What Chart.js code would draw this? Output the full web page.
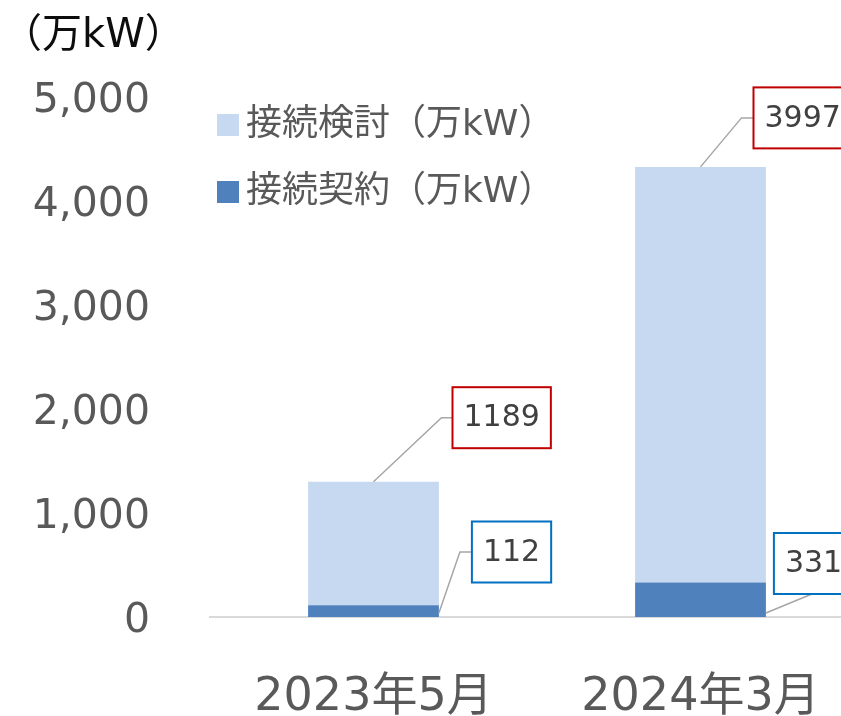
<!DOCTYPE html>
<html>
<head>
<meta charset="utf-8">
<script src="https://cdn.jsdelivr.net/npm/chart.js@4"></script>
<style>
  html, body { margin: 0; padding: 0; background: #fff; overflow: hidden; }
  #wrap { width: 841px; height: 716px; overflow: hidden; }
</style>
</head>
<body>
<div id="wrap"><canvas id="myChart" width="880" height="716"></canvas></div>
<script>
const categories = ['2023年5月', '2024年3月'];
const contractValues = [112, 331];     // 接続契約
const reviewValues = [1189, 3997];     // 接続検討
const yTickValues = [0, 1000, 2000, 3000, 4000, 5000];
const unitLabel = '（万kW）';

const FONT = '"DejaVu Sans", "Noto Sans CJK JP", sans-serif';
const GREY = '#595959';

// callout boxes for the data labels (offsets from the bar's anchor point)
const callouts = [
  { ds: 1, i: 0, anchor: 'top', dx: 68, dy: -64, gap: 11, border: '#C00000' },
  { ds: 1, i: 1, anchor: 'top', dx: 41, dy: -49, gap: 12, border: '#C00000' },
  { ds: 0, i: 0, anchor: 'corner', dx: 21, dy: -61, gap: 12, border: '#0070C0' },
  { ds: 0, i: 1, anchor: 'corner', dx: 46, dy: -19, gap: 0, border: '#0070C0', below: true }
];

const overlay = {
  id: 'overlay',
  afterDatasetsDraw(chart) {
    const ctx = chart.ctx;
    ctx.save();

    // unit label
    ctx.fillStyle = '#0d0d0d';
    ctx.font = '40px ' + FONT;
    ctx.textBaseline = 'middle';
    ctx.textAlign = 'left';
    ctx.fillText(unitLabel, 2, 37);

    // legend (review on top, contract below)
    const order = [1, 0];
    order.forEach((d, k) => {
      const ds = chart.data.datasets[d];
      const cy = 125 + k * 67;
      ctx.fillStyle = ds.backgroundColor;
      ctx.fillRect(217, cy - 11, 22, 22);
      ctx.fillStyle = GREY;
      ctx.font = '36px ' + FONT;
      ctx.fillText(ds.label, 246, cy + 1);
    });

    // data label callouts
    ctx.font = '30px ' + FONT;
    callouts.forEach(c => {
      const el = chart.getDatasetMeta(c.ds).data[c.i];
      const val = chart.data.datasets[c.ds].data[c.i];
      let ax, ay;
      if (c.anchor === 'top') { ax = el.x; ay = el.y; }
      else { ax = el.x + el.width / 2; ay = el.base - 4; }
      const ex = ax + c.dx, ey = ay + c.dy;
      const text = String(val);
      const w = ctx.measureText(text).width + 22;
      const h = 61;
      let bx, by;
      if (c.below) { bx = ex - 38; by = ey - h; }
      else { bx = ex + c.gap; by = ey - h / 2; }

      ctx.strokeStyle = '#A6A6A6';
      ctx.lineWidth = 1.5;
      ctx.beginPath();
      ctx.moveTo(ax, ay);
      ctx.lineTo(ex, ey);
      if (!c.below) ctx.lineTo(bx, ey);
      ctx.stroke();

      ctx.fillStyle = '#fff';
      ctx.fillRect(bx, by, w, h);
      ctx.strokeStyle = c.border;
      ctx.lineWidth = 2;
      ctx.strokeRect(bx, by, w, h);
      ctx.fillStyle = '#404040';
      ctx.textAlign = 'left';
      ctx.fillText(text, bx + 11, by + h / 2 + 1);
    });
    ctx.restore();
  }
};

new Chart(document.getElementById('myChart'), {
  type: 'bar',
  data: {
    labels: categories,
    datasets: [
      { label: '接続契約（万kW）', data: contractValues, backgroundColor: '#4F81BD' },
      { label: '接続検討（万kW）', data: reviewValues, backgroundColor: '#C6D9F0' }
    ]
  },
  options: {
    responsive: false,
    animation: false,
    devicePixelRatio: 1,
    categoryPercentage: 0.8,
    barPercentage: 0.5,
    layout: { padding: { top: 97, right: 16, left: 0, bottom: 0 } },
    plugins: { legend: { display: false }, tooltip: { enabled: false } },
    scales: {
      x: {
        stacked: true,
        grid: { display: false, drawTicks: false },
        border: { color: '#D9D9D9', width: 2 },
        ticks: { color: GREY, font: { family: FONT, size: 46 }, padding: 53 },
        afterFit(scale) { scale.height = 99; }
      },
      y: {
        stacked: true,
        min: 0,
        max: 5000,
        afterBuildTicks(scale) { scale.ticks = yTickValues.map(v => ({ value: v })); },
        grid: { display: false, drawTicks: false },
        border: { display: false },
        ticks: {
          color: GREY,
          font: { family: FONT, size: 41 },
          padding: 60,
          labelOffset: 4,
          callback: v => v.toLocaleString('en-US')
        },
        afterFit(scale) { scale.width = 210; }
      }
    }
  },
  plugins: [overlay]
});
</script>
</body>
</html>
